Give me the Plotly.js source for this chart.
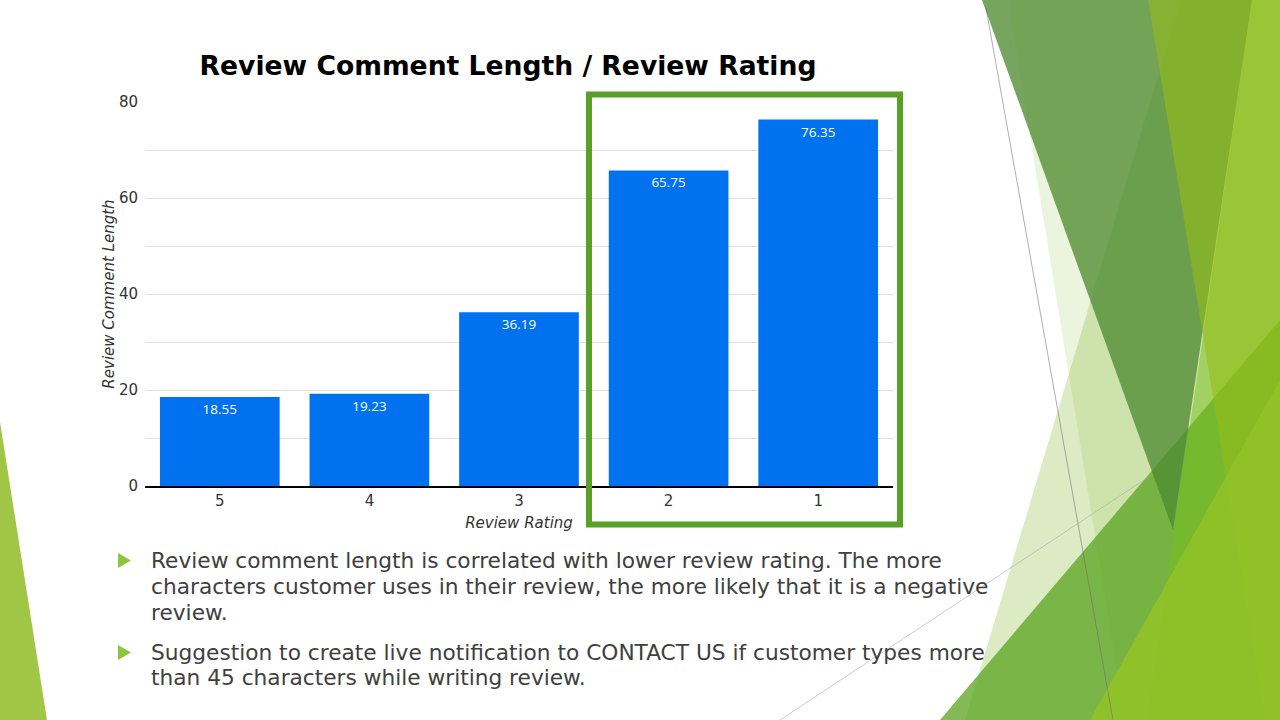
<!DOCTYPE html>
<html>
<head>
<meta charset="utf-8">
<script src="https://cdn.plot.ly/plotly-3.0.1.min.js"></script>
<style>
html,body{margin:0;padding:0;background:#fff;}
#chart{width:1280px;height:720px;}
</style>
</head>
<body>
<div id="chart"></div>
<script>
// ---- data ----
const ratings = ['5', '4', '3', '2', '1'];
const commentLength = [18.55, 19.23, 36.19, 65.75, 76.35];
const yTickVals = [0, 10, 20, 30, 40, 50, 60, 70, 80];
const yTickText = ['0', '', '20', '', '40', '', '60', '', '80'];
const chartTitle = 'Review Comment Length / Review Rating';
const xTitle = 'Review Rating';
const yTitle = 'Review Comment Length';
const bullet1 = ['Review comment length is correlated with lower review rating. The more',
                 'characters customer uses in their review, the more likely that it is a negative',
                 'review.'];
const bullet2 = ['Suggestion to create live notification to CONTACT US if customer types more',
                 'than 45 characters while writing review.'];

// ---- geometry helpers (pixel -> paper) ----
const PL = 145, PR = 893, PT = 102, PB = 486;
const fx = x => (x - PL) / (PR - PL);
const fy = y => (PB - y) / (PB - PT);
function poly(pts, fill) {
  const d = pts.map((p, i) => (i ? 'L' : 'M') + fx(p[0]).toFixed(5) + ',' + fy(p[1]).toFixed(5)).join(' ') + ' Z';
  return {type: 'path', xref: 'paper', yref: 'paper', path: d, fillcolor: fill, line: {width: 0}, layer: 'below'};
}
function seg(a, b, color, w) {
  return {type: 'line', xref: 'paper', yref: 'paper', x0: fx(a[0]), y0: fy(a[1]), x1: fx(b[0]), y1: fy(b[1]),
          line: {color: color, width: w}, layer: 'below'};
}

const shapes = [
  // decorative facets (right side)
  poly([[1008,0],[1280,0],[1280,720],[1125,720]], 'rgba(157,200,80,0.2)'),
  poly([[1181,0],[1280,0],[1280,720],[965,720]], 'rgba(140,190,60,0.3)'),
  poly([[940,720],[1280,320],[1280,720]], 'rgba(89,163,31,0.75)'),
  poly([[982,0],[1252,0],[1173,530]], 'rgba(80,140,50,0.78)'),
  poly([[1252,0],[1280,0],[1280,720],[1147,720]], 'rgba(117,192,28,0.5)'),
  poly([[1148,0],[1280,0],[1280,720],[1266,720]], 'rgba(147,188,25,0.6)'),
  poly([[1090,720],[1280,380],[1280,720]], 'rgba(145,194,40,0.9)'),
  seg([986,8],[1113,720], 'rgba(110,110,110,0.55)', 1),
  seg([780,720],[1150,476], 'rgba(170,170,170,0.6)', 1),
  // left bottom facet
  poly([[0,422],[47,720],[0,720]], '#a1c645'),
  // bullet markers
  poly([[118,553],[131,560.5],[118,568]], '#8dc53e'),
  poly([[118,645],[131,652.5],[118,660]], '#8dc53e'),
  // highlight box
  {type: 'rect', xref: 'paper', yref: 'paper', x0: fx(589), y0: fy(524.5), x1: fx(900), y1: fy(94.5),
   line: {color: '#59a027', width: 6}, fillcolor: 'rgba(0,0,0,0)', layer: 'above'}
];

const bulletFont = {family: 'DejaVu Sans, Verdana, sans-serif', size: 21.7, color: '#404040'};
const lineY1 = [560, 586, 612];
const lineY2 = [652, 677];
const annotations = [];
bullet1.forEach((t, i) => annotations.push({xref: 'paper', yref: 'paper', x: fx(149), y: fy(lineY1[i]),
  xanchor: 'left', yanchor: 'middle', align: 'left', showarrow: false, text: t, font: bulletFont}));
bullet2.forEach((t, i) => annotations.push({xref: 'paper', yref: 'paper', x: fx(149), y: fy(lineY2[i]),
  xanchor: 'left', yanchor: 'middle', align: 'left', showarrow: false, text: t, font: bulletFont}));

const axisFont = {family: 'DejaVu Sans, Verdana, sans-serif', size: 15, color: '#333333'};

const trace = {
  type: 'bar',
  x: ratings,
  y: commentLength,
  marker: {color: '#0072f0'},
  text: commentLength.map(v => v.toFixed(2)),
  textposition: 'inside',
  insidetextanchor: 'end',
  textfont: {color: '#ffffff', size: 13.5, family: 'Open Sans, sans-serif'},
  constraintext: 'none',
  hoverinfo: 'none'
};

const layout = {
  width: 1280, height: 720,
  margin: {l: PL, r: 1280 - PR, t: PT, b: 720 - PB, pad: 0},
  paper_bgcolor: '#ffffff', plot_bgcolor: '#ffffff',
  showlegend: false,
  bargap: 0.2,
  title: {text: '<b>' + chartTitle + '</b>', x: fx(508), xref: 'paper', xanchor: 'center',
          y: 1 - 66 / 720, yref: 'container', yanchor: 'middle',
          font: {family: 'DejaVu Sans, Verdana, sans-serif', size: 26.6, color: '#000000'}},
  xaxis: {type: 'category', showgrid: false, showline: true, linecolor: '#000000', linewidth: 1.5,
          ticks: '', ticklabelstandoff: 0,
          tickfont: axisFont,
          title: {text: '<i>' + xTitle + '</i>', standoff: 9, font: axisFont},
          fixedrange: true},
  yaxis: {range: [0, 80], tickvals: yTickVals, ticktext: yTickText, showgrid: true, gridcolor: '#e0e0e0',
          gridwidth: 1, zeroline: false, showline: false, ticks: '', ticklabelstandoff: 6,
          tickfont: axisFont,
          title: {text: '<i>' + yTitle + '</i>', standoff: 0, font: axisFont},
          fixedrange: true},
  shapes: shapes,
  annotations: annotations
};

Plotly.newPlot('chart', [trace], layout, {displayModeBar: false, staticPlot: true});
</script>
</body>
</html>
